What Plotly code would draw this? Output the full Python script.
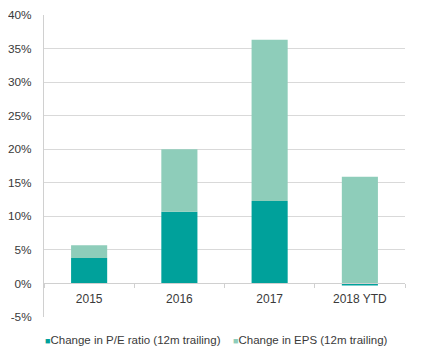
import plotly.graph_objects as go

categories = ["2015", "2016", "2017", "2018 YTD"]
pe_change = [3.8, 10.7, 12.3, -0.3]
eps_change = [1.9, 9.3, 24.0, 15.9]
series_names = ["Change in P/E ratio (12m trailing)", "Change in EPS (12m trailing)"]
y_ticks = [-5, 0, 5, 10, 15, 20, 25, 30, 35, 40]
y_tick_labels = [f"{v}%" for v in y_ticks]

dark = "#00A19B"
light = "#8ECDBA"
text_color = "#3A3A3A"
font_family = "Liberation Sans, Arial, sans-serif"

fig = go.Figure()
fig.add_trace(go.Bar(x=categories, y=pe_change, name=series_names[0],
                     marker=dict(color=dark, line=dict(width=0)), showlegend=False))
fig.add_trace(go.Bar(x=categories, y=eps_change, name=series_names[1],
                     marker=dict(color=light, line=dict(width=0)), showlegend=False))

ymin, ymax = -5, 40
fig.update_layout(
    width=430, height=347,
    margin=dict(l=36, r=33, t=7, b=38, autoexpand=False),
    barmode="relative",
    bargap=0.6,
    plot_bgcolor="white", paper_bgcolor="white",
    font=dict(family=font_family, size=11.5, color=text_color),
    xaxis=dict(
        type="category",
        anchor="free",
        position=(0 - ymin) / (ymax - ymin),
        showline=True, linecolor="#D0D0D0", linewidth=1,
        ticks="outside", tickson="boundaries", ticklen=4, tickcolor="#D0D0D0",
        ticklabelstandoff=4,
        showgrid=False, zeroline=False, automargin=False,
        tickfont=dict(size=12, color=text_color),
    ),
    yaxis=dict(
        range=[ymin, ymax],
        tickvals=y_ticks, ticktext=y_tick_labels,
        showgrid=True, gridcolor="#D9D9D9", gridwidth=1,
        showline=True, linecolor="#D0D0D0", linewidth=1,
        zeroline=False, automargin=False,
        ticks="", ticklabelstandoff=9,
        tickfont=dict(size=11.8, color=text_color),
    ),
    annotations=[
        dict(xref="paper", yref="paper", x=-0.003, y=-0.076, xanchor="left", yanchor="middle",
             showarrow=False,
             text=f"<span style='color:{dark};font-size:9px'>■</span>{series_names[0]}",
             font=dict(size=11.5, color=text_color)),
        dict(xref="paper", yref="paper", x=0.518, y=-0.076, xanchor="left", yanchor="middle",
             showarrow=False,
             text=f"<span style='color:{light};font-size:9px'>■</span>{series_names[1]}",
             font=dict(size=11.5, color=text_color)),
    ],
)

fig.write_html("out.html")
